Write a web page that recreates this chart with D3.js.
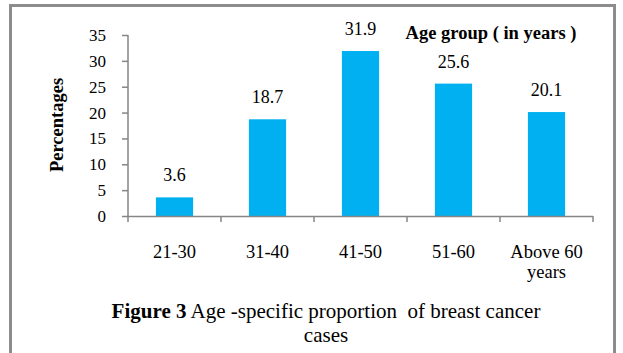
<!DOCTYPE html>
<html><head><meta charset="utf-8">
<script src="https://cdn.jsdelivr.net/npm/d3@7"></script>
<style>body{margin:0;background:#fff}svg{display:block}svg text{font-family:"Liberation Serif","Times New Roman",serif !important;fill:#000}</style>
</head><body><svg id="c" width="623" height="353" font-family="Liberation Serif"></svg>
<script>
const categories = ["21-30","31-40","41-50","51-60","Above 60|years"];
const values = [3.6,18.7,31.9,25.6,20.1];
const yTicks = [0,5,10,15,20,25,30,35];

const svg = d3.select("#c");
svg.append("rect").attr("x",10.5).attr("y",5.5).attr("width",604).attr("height",360)
  .attr("fill","none").attr("stroke","#8c8c8c").attr("stroke-width",3);

const x = d3.scaleBand().domain(categories).range([128,593]).paddingInner(0.6).paddingOuter(0.3);
const y = d3.scaleLinear().domain([0,35]).range([216,35]);

const g = svg.append("g");
g.selectAll("rect.bar").data(values).join("rect").attr("class","bar")
  .attr("x",(d,i)=>x(categories[i])).attr("width",x.bandwidth())
  .attr("y",d=>y(d)).attr("height",d=>y(0)-y(d)).attr("fill","#00B0F0");

g.selectAll("text.val").data(values).join("text").attr("class","val")
  .attr("x",(d,i)=>x(categories[i])+x.bandwidth()/2).attr("y",d=>y(d)-16)
  .attr("text-anchor","middle").attr("font-size",18).text(d=>d.toFixed(1));

const yAxis = d3.axisLeft(y).tickValues(yTicks).tickSize(6).tickPadding(16);
const ya = svg.append("g").attr("transform","translate(128,0)").call(yAxis);
ya.attr("font-family","Liberation Serif");
ya.selectAll("path,line").attr("stroke","#868686").attr("stroke-width",1.5);
ya.select("path").attr("d","M0,35V216");
ya.selectAll("text").attr("font-size",17).attr("fill","#000");

// x axis
const step = (593-128)/categories.length;
const xa = svg.append("g");
xa.append("line").attr("x1",127).attr("x2",593).attr("y1",216.5).attr("y2",216.5).attr("stroke","#868686").attr("stroke-width",1.5);
xa.selectAll("line.t").data(d3.range(categories.length+1)).join("line").attr("class","t")
  .attr("x1",i=>128+i*step).attr("x2",i=>128+i*step).attr("y1",216).attr("y2",222).attr("stroke","#868686").attr("stroke-width",1.5);
xa.selectAll("text").data(categories).join("text")
  .attr("x",d=>x(d)+x.bandwidth()/2).attr("y",258).attr("text-anchor","middle").attr("font-size",18.5)
  .each(function(d){
    const parts=d.split("|");
    const t=d3.select(this);
    parts.forEach((p,i)=>t.append("tspan").attr("x",x(d)+x.bandwidth()/2).attr("dy",i?20:0).text(p));
  });

svg.append("text").attr("transform","translate(63,125) rotate(-90)").attr("text-anchor","middle")
  .attr("font-size",18.5).attr("font-weight","bold").text("Percentages");
svg.append("text").attr("x",491).attr("y",38.5).attr("text-anchor","middle")
  .attr("font-size",18.5).attr("font-weight","bold").text("Age group ( in years )");

const cap = svg.append("text").attr("x",326).attr("y",318).attr("text-anchor","middle").attr("font-size",21).style("white-space","pre");
cap.append("tspan").attr("font-weight","bold").text("Figure 3");
cap.append("tspan").text(" Age -specific proportion  of breast cancer");
svg.append("text").attr("x",326).attr("y",342).attr("text-anchor","middle").attr("font-size",21).text("cases");
</script></body></html>
